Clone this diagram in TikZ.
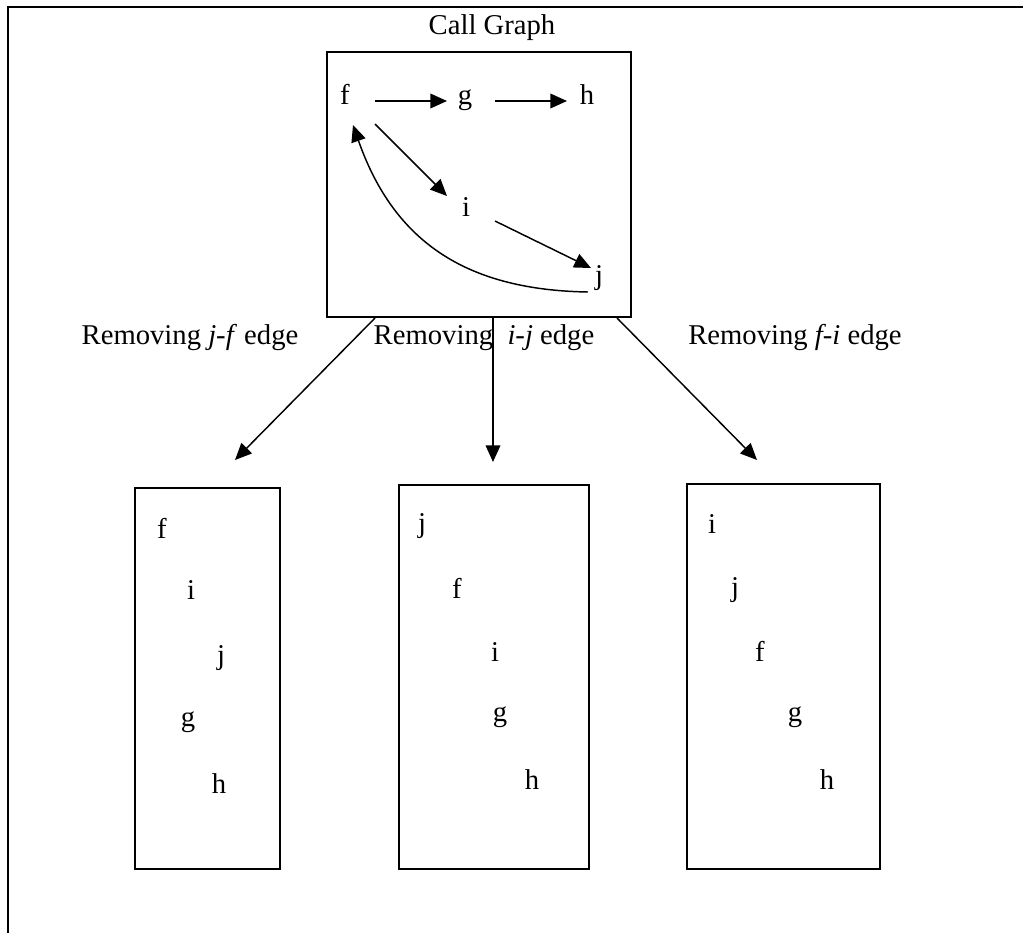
\documentclass[tikz,border=0pt]{standalone}
\usepackage{fontspec}
\setmainfont{Liberation Serif}
\usetikzlibrary{arrows.meta,calc}
\begin{document}
\begin{tikzpicture}[x=0.75pt,y=-0.75pt,
  every node/.style={font=\fontsize{21.5}{25}\selectfont},
  letter/.style={inner sep=0pt,text height=0.7em,text depth=0.2em},
  boxnode/.style={draw,line width=1.5pt,inner sep=0pt},
  arr/.style={line width=1.1pt,-{Triangle[length=12.5pt,width=11pt]}},
  lbl/.style={anchor=base,inner sep=0pt}]
\useasboundingbox (0,0) rectangle (1023,933);
% outer frame
\draw[line width=2.2pt] (8,933) -- (8,7) -- (1023,7);
% title
\node[lbl] (title) at (492,34) {Call Graph};
% call graph box
\node[boxnode,minimum width=228pt,minimum height=198.75pt] (cg) at (479,184.5) {};
\node[letter] (f) at (345,101) {f};
\node[letter] (g) at (465,101) {g};
\node[letter] (h) at (587,101) {h};
\node[letter] (i) at (466,213) {i};
\node[letter] (j) at (599,281) {j};
\draw[arr] ($(f)+(30,0)$) -- ($(g)+(-18,0)$);
\draw[arr] ($(g)+(30,0)$) -- ($(h)+(-20,0)$);
\draw[arr] ($(f)+(30,23)$) -- ($(i)+(-19,-17)$);
\draw[arr] ($(i)+(29,8)$) -- ($(j)+(-8,-13)$);
\draw[arr] ($(j)+(-11,11)$) .. controls (470,290) and (395,245) .. ($(f)+(8,24)$);
% branch arrows
\coordinate (t1) at (235,460);
\coordinate (t2) at (493,462);
\coordinate (t3) at (757,460);
\draw[arr] ($(cg.south)+(-104,0)$) -- (t1);
\draw[arr] ($(cg.south)+(14,0)$) -- (t2);
\draw[arr] ($(cg.south)+(138,0)$) -- (t3);
\node[lbl] (l1) at (190,344) {Removing \textit{j-f} edge};
\node[lbl] (l2) at (484,344) {Removing \ \textit{i-j} edge};
\node[lbl] (l3) at (795,344) {Removing \textit{f-i} edge};
% bottom boxes
\node[boxnode,minimum width=108.75pt,minimum height=285.75pt] (b1) at (207.5,678.5) {};
\node[boxnode,minimum width=142.5pt,minimum height=288pt] (b2) at (494,677) {};
\node[boxnode,minimum width=144.75pt,minimum height=288.75pt] (b3) at (783.5,676.5) {};
% box 1
\node[letter] (b1f) at (162,535) {f};
\node[letter] (b1i) at (191,596) {i};
\node[letter] (b1j) at (221,661) {j};
\node[letter] (b1g) at (188,723) {g};
\node[letter] (b1h) at (219,790) {h};
% box 2
\node[letter] (b2j) at (422,529) {j};
\node[letter] (b2f) at (457,595) {f};
\node[letter] (b2i) at (495,658) {i};
\node[letter] (b2g) at (500,718) {g};
\node[letter] (b2h) at (532,786) {h};
% box 3
\node[letter] (b3i) at (712,530) {i};
\node[letter] (b3j) at (735,593) {j};
\node[letter] (b3f) at (760,658) {f};
\node[letter] (b3g) at (795,718) {g};
\node[letter] (b3h) at (827,786) {h};
\end{tikzpicture}
\end{document}
